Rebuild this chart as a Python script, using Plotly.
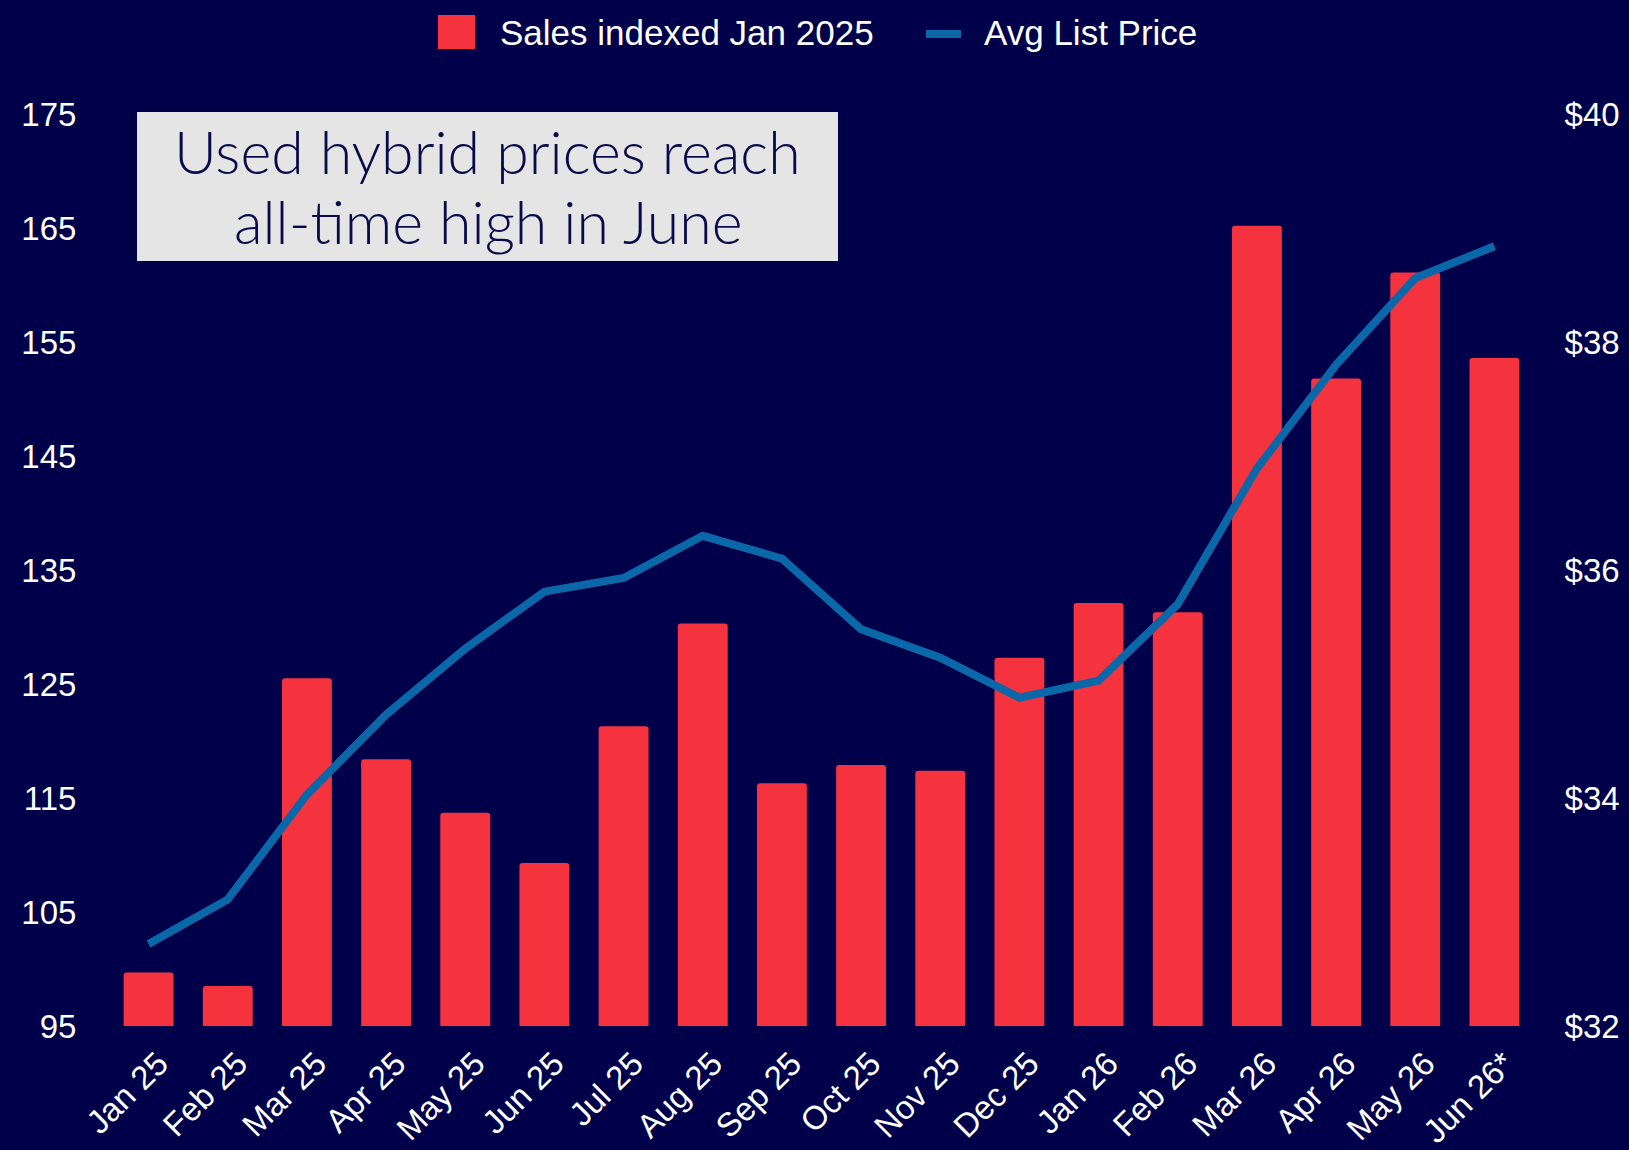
import plotly.graph_objects as go

months = ["Jan 25", "Feb 25", "Mar 25", "Apr 25", "May 25", "Jun 25", "Jul 25", "Aug 25", "Sep 25",
          "Oct 25", "Nov 25", "Dec 25", "Jan 26", "Feb 26", "Mar 26", "Apr 26", "May 26", "Jun 26*"]
sales_index = [99.7, 98.5, 125.5, 118.4, 113.7, 109.3, 121.3, 130.3, 116.3,
               117.9, 117.4, 127.3, 132.1, 131.3, 165.2, 151.8, 161.1, 153.6]
avg_list_price = [32.72, 33.11, 34.03, 34.73, 35.31, 35.81, 35.93, 36.30, 36.10,
                  35.48, 35.23, 34.88, 35.03, 35.70, 36.89, 37.80, 38.56, 38.84]
left_ticks = [95, 105, 115, 125, 135, 145, 155, 165, 175]
right_ticks = [32, 34, 36, 38, 40]
right_tick_labels = ["$32", "$34", "$36", "$38", "$40"]

BG = "#00004a"
RED = "#f5333f"
BLUE = "#0a68a8"
W, H = 1629, 1150
ML, MR, MT, MB = 109, 95, 114, 124
PW, PH = W - ML - MR, H - MT - MB

def px(x):
    return (x - ML) / PW

def py(y):
    return (H - MB - y) / PH

fig = go.Figure()
fig.add_trace(go.Bar(x=months, y=sales_index, name="Sales indexed Jan 2025",
                     marker=dict(color=RED, line=dict(width=0), cornerradius=3),
                     yaxis="y", showlegend=False))
fig.add_trace(go.Scatter(x=months, y=avg_list_price, name="Avg List Price", mode="lines",
                         line=dict(color=BLUE, width=8), yaxis="y2", showlegend=False))

tickfont = dict(family="Liberation Sans, Arial, sans-serif", size=33, color="white")
xtickfont = dict(family="Liberation Sans, Arial, sans-serif", size=33, color="white")

fig.update_layout(
    width=W, height=H,
    paper_bgcolor=BG, plot_bgcolor=BG,
    margin=dict(l=ML, r=MR, t=MT, b=MB, pad=0, autoexpand=False),
    bargap=0.37,
    showlegend=False,
    xaxis=dict(type="category", tickangle=-45, tickfont=xtickfont, showgrid=False, automargin=False,
               zeroline=False, showline=False, ticks="outside", ticklen=4, tickcolor=BG,
               ticklabelshift=10),
    yaxis=dict(range=[95, 175], tickvals=left_ticks, tickfont=tickfont, showgrid=False, automargin=False,
               zeroline=False, showline=False, ticks="outside", ticklen=25, tickcolor=BG),
    yaxis2=dict(range=[32, 40], tickvals=right_ticks, ticktext=right_tick_labels, tickfont=tickfont,
                overlaying="y", side="right", showgrid=False, zeroline=False, showline=False,
                automargin=False, ticks="outside", ticklen=23, tickcolor=BG),
)

# Title box
fig.add_shape(type="rect", xref="paper", yref="paper",
              x0=px(137), x1=px(838), y0=py(261), y1=py(112),
              fillcolor="#e5e5e5", line=dict(width=0), layer="above")
titlefont = dict(family="Lato, sans-serif", size=59, color="#0a0a4a", weight=300)
fig.add_annotation(xref="paper", yref="paper", x=px(487.5), y=py(152),
                   text="Used hybrid prices reach",
                   showarrow=False, xanchor="center", yanchor="middle", font=titlefont)
fig.add_annotation(xref="paper", yref="paper", x=px(487.5), y=py(221),
                   text="all-time high in June",
                   showarrow=False, xanchor="center", yanchor="middle", font=titlefont)

# Legend
legfont = dict(family="Liberation Sans, Arial, sans-serif", size=35, color="white")
fig.add_shape(type="rect", xref="paper", yref="paper",
              x0=px(438), x1=px(475), y0=py(49), y1=py(15),
              fillcolor=RED, line=dict(width=0))
fig.add_annotation(xref="paper", yref="paper", x=px(498), y=py(32),
                   text="Sales indexed Jan 2025", showarrow=False,
                   xanchor="left", yanchor="middle", font=legfont)
fig.add_shape(type="line", xref="paper", yref="paper",
              x0=px(926), x1=px(961), y0=py(34), y1=py(34),
              line=dict(color=BLUE, width=8))
fig.add_annotation(xref="paper", yref="paper", x=px(982), y=py(32),
                   text="Avg List Price", showarrow=False,
                   xanchor="left", yanchor="middle", font=legfont)

fig.write_html("out.html", config={"displayModeBar": False},
               post_script="document.body.style.margin='0';document.body.style.overflow='hidden';")
